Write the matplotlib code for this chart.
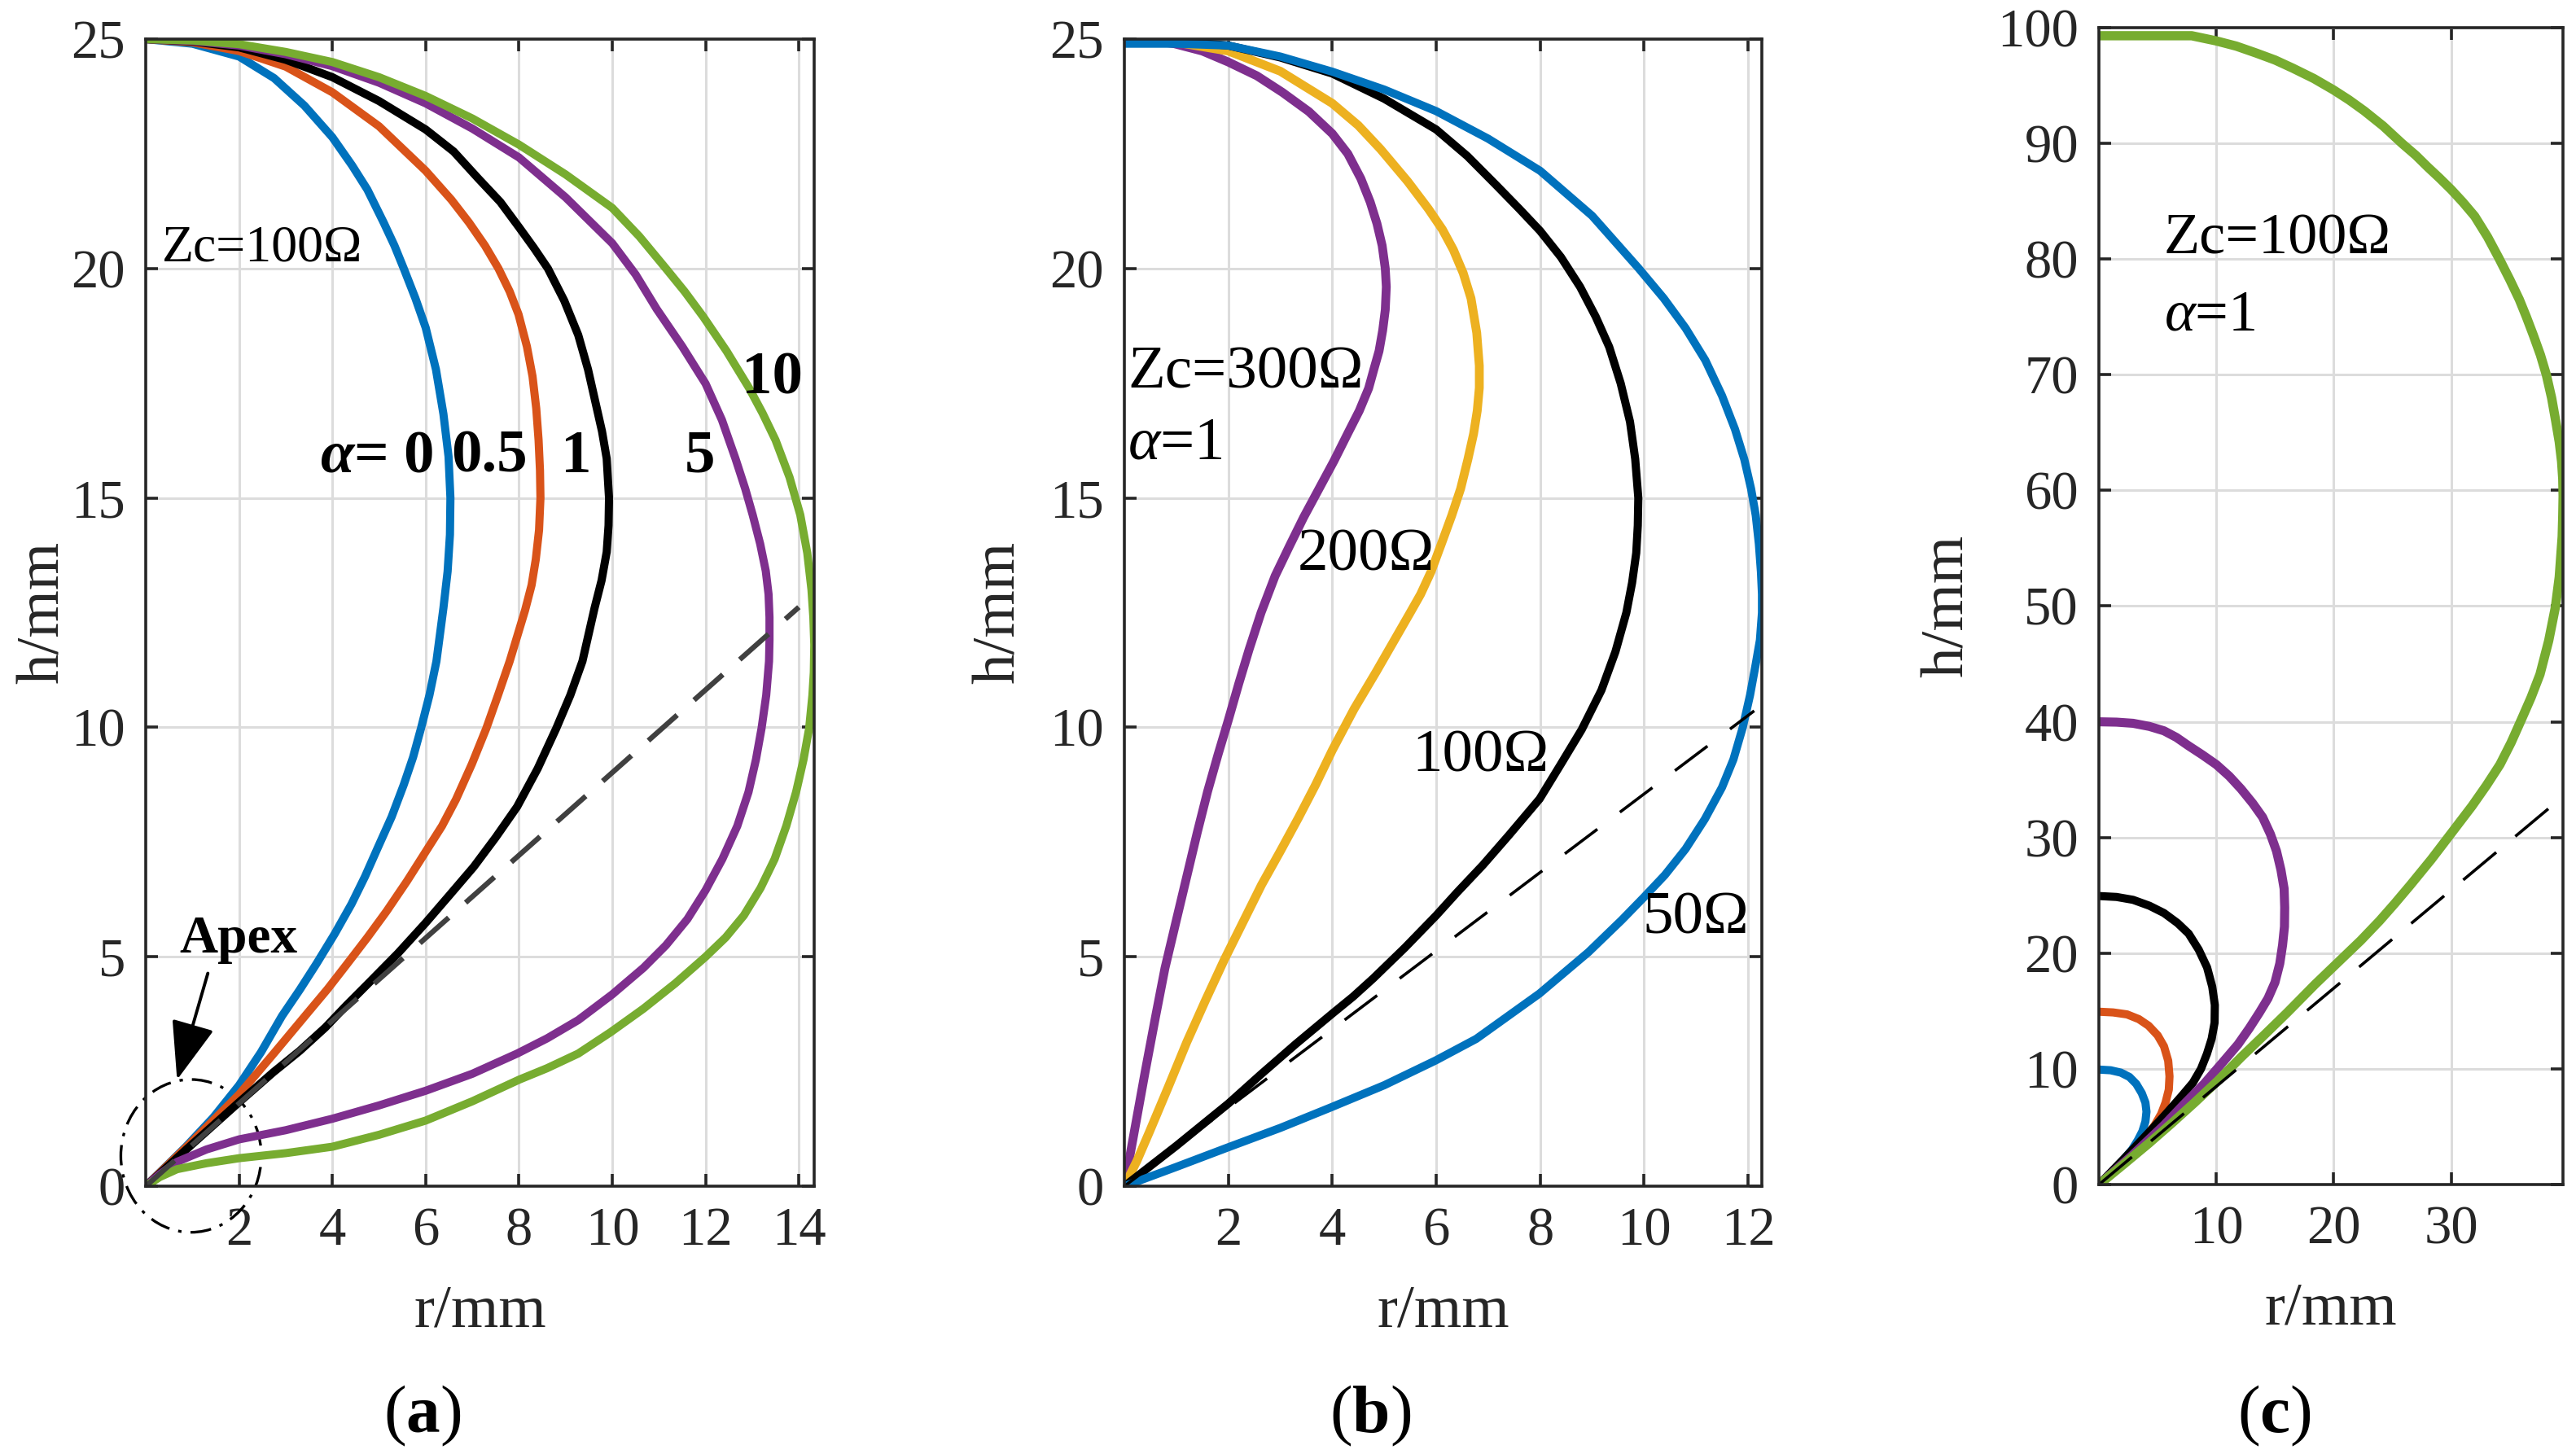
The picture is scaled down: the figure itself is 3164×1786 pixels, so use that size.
import matplotlib
matplotlib.use("Agg")
import matplotlib.pyplot as plt
from matplotlib.patches import Ellipse

plt.rcParams['font.family'] = ['Liberation Serif', 'DejaVu Serif']
plt.rcParams['mathtext.fontset'] = 'custom'
plt.rcParams['mathtext.rm'] = 'Liberation Serif'
plt.rcParams['mathtext.it'] = 'Liberation Serif:italic'
plt.rcParams['mathtext.bf'] = 'Liberation Serif:bold'
plt.rcParams['mathtext.bfit'] = 'Liberation Serif:italic:bold'
plt.rcParams['lines.scale_dashes'] = False

C_BLUE = '#0072BD'
C_ORANGE = '#D95319'
C_YELLOW = '#EDB120'
C_PURPLE = '#7E2F8E'
C_GREEN = '#77AC30'
C_AX = '#262626'

# ---------------- panel (a): Zc = 100 ohm, varying alpha ----------------
a_alpha0_r = [0, 1.0, 2.0, 2.75, 3.4, 4.0, 4.42, 4.75, 5.1, 5.33, 5.53, 5.78, 6.0, 6.22, 6.38, 6.49, 6.53, 6.52, 6.47, 6.38, 6.23, 6.08, 5.9, 5.73, 5.53, 5.27, 4.97, 4.7, 4.41, 4.05, 3.66, 3.3, 2.92, 2.47, 2.0, 1.45, 0.86, 0.4, 0]
a_alpha0_h = [25, 24.9, 24.62, 24.15, 23.55, 22.86, 22.25, 21.72, 21.0, 20.5, 20.0, 19.35, 18.71, 17.8, 16.83, 15.9, 15.0, 14.2, 13.4, 12.6, 11.44, 10.7, 9.98, 9.35, 8.75, 8.05, 7.37, 6.75, 6.15, 5.5, 4.85, 4.28, 3.71, 2.92, 2.2, 1.5, 0.86, 0.4, 0]

a_alpha05_r = [0, 1.0, 2.0, 3.0, 4.0, 5.0, 6.0, 6.55, 6.93, 7.27, 7.56, 7.8, 7.99, 8.17, 8.29, 8.37, 8.42, 8.45, 8.46, 8.43, 8.36, 8.27, 8.13, 7.8, 7.55, 7.3, 6.99, 6.65, 6.35, 6.0, 5.6, 5.16, 4.75, 4.32, 3.9, 3.48, 2.75, 2.0, 1.0, 0]
a_alpha05_h = [25, 24.93, 24.74, 24.4, 23.84, 23.1, 22.13, 21.5, 21.0, 20.5, 20.0, 19.5, 19.0, 18.3, 17.65, 16.95, 16.26, 15.6, 15.0, 14.3, 13.66, 13.1, 12.55, 11.44, 10.7, 9.98, 9.2, 8.43, 7.85, 7.29, 6.65, 5.99, 5.42, 4.85, 4.3, 3.79, 2.9, 2.0, 0.98, 0]

a_alpha1_r = [0, 1.0, 2.0, 3.0, 4.0, 5.0, 6.0, 6.6, 7.12, 7.6, 8.0, 8.32, 8.62, 8.97, 9.27, 9.48, 9.64, 9.78, 9.88, 9.93, 9.92, 9.88, 9.77, 9.62, 9.36, 9.1, 8.8, 8.4, 7.96, 7.5, 7.03, 6.5, 6.0, 5.4, 4.79, 4.3, 3.85, 3.3, 2.73, 2.0, 1.0, 0]
a_alpha1_h = [25, 24.95, 24.82, 24.55, 24.17, 23.65, 23.03, 22.55, 21.97, 21.45, 20.9, 20.45, 20.0, 19.3, 18.55, 17.8, 17.08, 16.45, 15.86, 15.0, 14.4, 13.82, 13.2, 12.6, 11.44, 10.7, 9.98, 9.1, 8.27, 7.6, 6.96, 6.33, 5.74, 5.07, 4.44, 3.94, 3.46, 2.95, 2.48, 1.83, 0.92, 0]

a_alpha5_r = [0, 1.0, 2.0, 3.0, 4.0, 5.0, 6.0, 7.0, 8.0, 9.0, 10.0, 10.5, 10.95, 11.5, 12.0, 12.35, 12.64, 12.85, 13.01, 13.17, 13.29, 13.35, 13.37, 13.37, 13.36, 13.3, 13.2, 13.08, 12.92, 12.68, 12.36, 12.0, 11.61, 11.15, 10.67, 10.0, 9.27, 8.6, 7.96, 7.0, 6.0, 5.0, 4.0, 3.0, 2.0, 1.3, 0.67, 0.3, 0]
a_alpha5_h = [25, 24.96, 24.86, 24.67, 24.41, 24.05, 23.6, 23.05, 22.42, 21.55, 20.55, 19.87, 19.12, 18.3, 17.49, 16.7, 15.86, 15.2, 14.63, 14.0, 13.41, 12.9, 12.4, 11.9, 11.44, 10.7, 9.98, 9.3, 8.59, 7.85, 7.13, 6.45, 5.82, 5.25, 4.76, 4.18, 3.62, 3.22, 2.89, 2.45, 2.08, 1.76, 1.47, 1.22, 1.02, 0.8, 0.53, 0.26, 0]

a_alpha10_r = [0, 1.0, 2.0, 3.0, 4.0, 5.0, 6.0, 7.0, 8.0, 9.0, 10.0, 10.58, 11.15, 11.55, 11.95, 12.45, 12.93, 13.22, 13.5, 13.8, 14.03, 14.18, 14.27, 14.31, 14.33, 14.32, 14.29, 14.22, 14.1, 13.94, 13.73, 13.48, 13.18, 12.82, 12.43, 12.0, 11.35, 10.67, 9.97, 9.27, 8.6, 8.0, 7.0, 6.0, 5.0, 4.0, 3.0, 2.0, 1.3, 0.67, 0.3, 0]
a_alpha10_h = [25, 24.97, 24.89, 24.72, 24.5, 24.17, 23.76, 23.27, 22.7, 22.05, 21.32, 20.7, 20.0, 19.5, 18.95, 18.2, 17.4, 16.85, 16.26, 15.45, 14.63, 13.8, 13.0, 12.4, 11.8, 11.2, 10.7, 9.98, 9.3, 8.59, 7.85, 7.13, 6.5, 5.9, 5.42, 5.0, 4.42, 3.87, 3.36, 2.89, 2.57, 2.32, 1.85, 1.43, 1.12, 0.86, 0.72, 0.61, 0.5, 0.37, 0.2, 0]

a_dash_r = [0, 14.0]
a_dash_h = [0, 12.62]

# ---------------- panel (b): alpha = 1, varying Zc ----------------
b_300_r = [0, 0.5, 0.96, 1.5, 2.0, 2.55, 3.04, 3.55, 4.0, 4.3, 4.55, 4.73, 4.86, 4.96, 5.02, 5.04, 5.02, 4.97, 4.9, 4.8, 4.7, 4.52, 4.3, 4.03, 3.74, 3.45, 3.18, 2.9, 2.63, 2.4, 2.2, 2.0, 1.8, 1.6, 1.4, 1.2, 1.0, 0.78, 0.6, 0.4, 0.2, 0]
b_300_h = [25.0, 24.97, 24.9, 24.74, 24.5, 24.2, 23.84, 23.42, 22.94, 22.5, 21.96, 21.45, 20.98, 20.5, 20.0, 19.6, 19.1, 18.65, 18.2, 17.8, 17.39, 16.9, 16.41, 15.8, 15.19, 14.58, 13.96, 13.3, 12.5, 11.7, 10.95, 10.16, 9.4, 8.6, 7.7, 6.75, 5.8, 4.75, 3.7, 2.5, 1.25, 0]

b_200_r = [0, 1.0, 2.0, 3.0, 4.0, 4.5, 4.93, 5.45, 5.85, 6.12, 6.33, 6.52, 6.67, 6.78, 6.83, 6.83, 6.79, 6.72, 6.61, 6.47, 6.3, 6.1, 5.9, 5.7, 5.5, 5.17, 4.85, 4.42, 4.0, 3.68, 3.35, 3.0, 2.64, 2.28, 1.92, 1.56, 1.2, 0.84, 0.48, 0.24, 0]
b_200_h = [25, 24.93, 24.74, 24.3, 23.6, 23.12, 22.6, 21.9, 21.3, 20.85, 20.41, 19.9, 19.35, 18.6, 17.88, 17.4, 16.9, 16.4, 15.84, 15.2, 14.62, 14.0, 13.39, 12.9, 12.5, 11.85, 11.22, 10.4, 9.5, 8.75, 8.03, 7.3, 6.57, 5.75, 4.93, 4.05, 3.14, 2.15, 1.18, 0.55, 0]

b_100_r = [0, 1.0, 2.0, 3.0, 4.0, 5.0, 6.0, 6.6, 7.17, 7.6, 8.0, 8.4, 8.77, 9.07, 9.33, 9.55, 9.73, 9.83, 9.89, 9.88, 9.85, 9.77, 9.66, 9.45, 9.18, 8.8, 8.39, 7.99, 7.4, 6.9, 6.4, 6.0, 5.4, 4.79, 4.4, 4.0, 3.3, 2.64, 2.0, 1.0, 0]
b_100_h = [25, 24.96, 24.86, 24.6, 24.25, 23.7, 23.03, 22.45, 21.8, 21.3, 20.82, 20.25, 19.6, 18.95, 18.29, 17.5, 16.66, 15.85, 15.0, 14.4, 13.8, 13.15, 12.5, 11.65, 10.81, 9.95, 9.18, 8.44, 7.65, 7.0, 6.4, 5.9, 5.2, 4.53, 4.13, 3.76, 3.1, 2.45, 1.8, 0.88, 0]

b_50_r = [0, 1.0, 2.0, 3.0, 4.0, 5.0, 6.0, 7.0, 8.0, 9.0, 9.9, 10.38, 10.8, 11.18, 11.5, 11.75, 11.93, 12.06, 12.15, 12.21, 12.25, 12.27, 12.27, 12.23, 12.15, 12.04, 11.9, 11.72, 11.5, 11.17, 10.8, 10.4, 10.0, 9.57, 8.93, 7.99, 6.77, 5.99, 5.0, 3.98, 3.0, 1.98, 1.0, 0]
b_50_h = [24.9, 24.9, 24.86, 24.62, 24.29, 23.9, 23.43, 22.83, 22.13, 21.15, 20.0, 19.35, 18.7, 18.0, 17.23, 16.5, 15.84, 15.2, 14.62, 14.0, 13.39, 12.9, 12.5, 11.9, 11.38, 10.7, 10.0, 9.3, 8.69, 8.0, 7.35, 6.78, 6.3, 5.8, 5.1, 4.2, 3.21, 2.74, 2.2, 1.72, 1.27, 0.84, 0.42, 0]

b_dash_r = [0, 12.12]
b_dash_h = [0, 10.36]

# ---------------- panel (c): Zc = 100 ohm, alpha = 1, varying height ----------------
c_h10_r = [0, 1.0, 1.86, 2.6, 3.18, 3.65, 3.96, 4.05, 3.96, 3.7, 3.31, 2.8, 2.13, 1.0, 0]
c_h10_h = [9.94, 9.88, 9.68, 9.3, 8.7, 7.9, 7.08, 6.3, 5.45, 4.6, 3.83, 3.0, 2.21, 1.0, 0]

c_h15_r = [0, 1.2, 2.39, 3.4, 4.23, 5.0, 5.54, 5.9, 6.01, 5.95, 5.67, 5.3, 4.75, 3.9, 2.91, 1.5, 0]
c_h15_h = [14.94, 14.88, 14.71, 14.3, 13.73, 12.9, 11.95, 10.7, 9.35, 8.2, 7.08, 6.1, 5.13, 4.0, 2.86, 1.4, 0]

c_h25_r = [0, 1.5, 2.91, 4.3, 5.54, 6.7, 7.64, 8.5, 9.21, 9.65, 9.87, 9.85, 9.6, 9.2, 8.69, 8.0, 7.11, 5.7, 4.23, 2.1, 0]
c_h25_h = [24.94, 24.86, 24.61, 24.1, 23.47, 22.6, 21.69, 20.3, 18.77, 17.1, 15.52, 14.0, 12.6, 11.3, 10.0, 8.8, 7.73, 6.1, 4.48, 2.2, 0]

c_h40_r = [0, 1.5, 2.91, 4.3, 5.54, 6.6, 7.64, 8.8, 10.0, 11.1, 12.1, 13.1, 13.94, 14.6, 15.12, 15.5, 15.77, 15.82, 15.8, 15.64, 15.4, 14.99, 14.4, 13.67, 12.8, 11.84, 10.4, 8.95, 7.2, 5.54, 2.8, 0]
c_h40_h = [40, 39.97, 39.87, 39.6, 39.22, 38.65, 37.92, 37.15, 36.3, 35.3, 34.2, 32.95, 31.75, 30.3, 28.83, 27.2, 25.58, 23.96, 22.3, 20.71, 19.1, 17.47, 16.1, 14.87, 13.5, 12.11, 10.4, 8.7, 6.9, 5.13, 2.5, 0]

c_h100_r = [0, 7.9, 10.0, 11.7, 13.4, 15.0, 16.5, 18.3, 20.0, 21.3, 22.6, 24.2, 25.8, 27.0, 28.0, 29.0, 30.0, 31.0, 32.0, 33.1, 34.1, 35.0, 35.8, 36.4, 37.0, 37.6, 38.1, 38.55, 38.9, 39.2, 39.4, 39.5, 39.53, 39.5, 39.45, 39.2, 38.87, 38.3, 37.56, 36.8, 35.98, 35.1, 34.15, 33.0, 31.78, 30.03, 28.3, 26.53, 25.2, 23.9, 22.3, 20.76, 18.4, 16.04, 14.1, 12.1, 10.1, 8.16, 6.2, 4.23, 2.1, 0]
c_h100_h = [99.3, 99.3, 98.85, 98.4, 97.8, 97.2, 96.5, 95.6, 94.6, 93.75, 92.8, 91.5, 90.0, 88.95, 87.95, 87.0, 86.0, 84.9, 83.7, 81.9, 80.0, 78.2, 76.5, 75.0, 73.4, 71.7, 70.0, 68.0, 66.0, 64.2, 62.5, 61.0, 59.5, 57.8, 56.0, 52.5, 49.9, 47.0, 44.1, 42.1, 40.2, 38.2, 36.3, 34.5, 32.73, 30.4, 28.1, 25.9, 24.3, 22.8, 21.1, 19.6, 17.3, 14.87, 12.95, 11.0, 8.95, 7.1, 5.3, 3.55, 1.75, 0]

c_dash_r = [0, 39.0]
c_dash_h = [0, 33.1]

a_xticks = [2, 4, 6, 8, 10, 12, 14]
a_yticks = [0, 5, 10, 15, 20, 25]
b_xticks = [2, 4, 6, 8, 10, 12]
b_yticks = [0, 5, 10, 15, 20, 25]
c_xticks = [10, 20, 30]
c_yticks = [0, 10, 20, 30, 40, 50, 60, 70, 80, 90, 100]

fig = plt.figure(figsize=(15.82, 8.93), dpi=200)
ax_a = fig.add_axes([0.0566, 0.1842, 0.2595, 0.7889])
ax_b = fig.add_axes([0.4365, 0.1842, 0.2475, 0.7889])
ax_c = fig.add_axes([0.8148, 0.1853, 0.1802, 0.7957])

LW = 3.6


def style(ax, xticks, yticks, xmax, ymax, ylab_x, xlab_y):
    ax.set_xlim(0, xmax)
    ax.set_ylim(0, ymax)
    ax.set_xticks(xticks)
    ax.set_yticks(yticks)
    ax.set_axisbelow(True)
    ax.grid(True, color='#dcdcdc', lw=1.1)
    for s in ax.spines.values():
        s.set_color(C_AX)
        s.set_linewidth(1.3)
    ax.tick_params(direction='in', length=5.5, width=1.3, top=True, right=True,
                   labelsize=24, colors=C_AX)
    ax.tick_params(axis='x', pad=9)
    ax.tick_params(axis='y', pad=9)
    ax.set_xlabel('r/mm', fontsize=27, color=C_AX)
    ax.set_ylabel('h/mm', fontsize=27, color=C_AX)
    ax.xaxis.set_label_coords(0.5, xlab_y)
    ax.xaxis.label.set_va('center')
    ax.yaxis.set_label_coords(ylab_x, 0.5)
    ax.yaxis.label.set_va('center')


# panel a
ax = ax_a
ax.plot(a_alpha0_r, a_alpha0_h, color=C_BLUE, lw=LW)
ax.plot(a_alpha05_r, a_alpha05_h, color=C_ORANGE, lw=LW)
ax.plot(a_alpha1_r, a_alpha1_h, color='black', lw=LW)
ax.plot(a_alpha5_r, a_alpha5_h, color=C_PURPLE, lw=LW)
ax.plot(a_alpha10_r, a_alpha10_h, color=C_GREEN, lw=LW)
ax.plot(a_dash_r, a_dash_h, color='#404040', lw=2.3, dashes=(17, 10))
style(ax, a_xticks, a_yticks, max(a_alpha10_r), 25, -0.152, -0.11)
ax.text(0.35, 20.17, 'Zc=100\u03a9', fontsize=23, ha='left', va='baseline')
ax.text(3.73, 15.57, r'$\mathbfit{\alpha}$= 0', fontsize=27, fontweight='bold', ha='left', va='baseline')
ax.text(6.55, 15.57, '0.5', fontsize=27, fontweight='bold', ha='left', va='baseline')
ax.text(8.9, 15.57, '1', fontsize=27, fontweight='bold', ha='left', va='baseline')
ax.text(11.54, 15.57, '5', fontsize=27, fontweight='bold', ha='left', va='baseline')
ax.text(12.78, 17.28, '10', fontsize=27, fontweight='bold', ha='left', va='baseline')
ax.text(0.72, 5.1, 'Apex', fontsize=23.5, fontweight='bold', ha='left', va='baseline')
ax.annotate('', xy=(0.67, 2.32), xytext=(1.33, 4.64),
            arrowprops=dict(arrowstyle='-|>,head_length=0.75,head_width=0.28',
                            color='black', lw=1.4, mutation_scale=30,
                            shrinkA=0, shrinkB=0), annotation_clip=False)
ax.add_patch(Ellipse((0.97, 0.66), 3.01, 3.33, fill=False, ec='black', lw=1.2,
                     ls=(0, (9, 4, 1.5, 4)), clip_on=False))

# panel b
ax = ax_b
ax.plot(b_300_r, b_300_h, color=C_PURPLE, lw=LW + 0.3)
ax.plot(b_200_r, b_200_h, color=C_YELLOW, lw=LW + 0.3)
ax.plot(b_100_r, b_100_h, color='black', lw=LW)
ax.plot(b_50_r, b_50_h, color=C_BLUE, lw=LW)
ax.plot(b_dash_r, b_dash_h, color='black', lw=1.3, dashes=(18, 12.5))
style(ax, b_xticks, b_yticks, max(b_50_r), 25, -0.196, -0.11)
ax.text(0.06, 17.39, 'Zc=300\u03a9', fontsize=27, ha='left', va='baseline')
ax.text(0.06, 15.86, r'$\alpha$=1', fontsize=27, ha='left', va='baseline')
ax.text(3.34, 13.43, '200\u03a9', fontsize=27, ha='left', va='baseline')
ax.text(5.54, 9.04, '100\u03a9', fontsize=27, ha='left', va='baseline')
ax.text(9.97, 5.51, '50\u03a9', fontsize=27, ha='left', va='baseline')

# panel c
ax = ax_c
ax.plot(c_h10_r, c_h10_h, color=C_BLUE, lw=LW)
ax.plot(c_h15_r, c_h15_h, color=C_ORANGE, lw=LW)
ax.plot(c_h25_r, c_h25_h, color='black', lw=LW)
ax.plot(c_h40_r, c_h40_h, color=C_PURPLE, lw=LW + 0.4)
ax.plot(c_h100_r, c_h100_h, color=C_GREEN, lw=LW + 0.5)
ax.plot(c_dash_r, c_dash_h, color='black', lw=1.3, dashes=(19, 11))
style(ax, c_xticks, c_yticks, max(c_h100_r), 100, -0.325, -0.108)
ax.text(5.54, 80.45, 'Zc=100\u03a9', fontsize=26, ha='left', va='baseline')
ax.text(5.54, 73.85, r'$\alpha$=1', fontsize=26, ha='left', va='baseline')

# subplot captions
fig.text(0.164, 0.026, r'($\mathbf{a}$)', fontsize=30, ha='center', va='center')
fig.text(0.532, 0.026, r'($\mathbf{b}$)', fontsize=30, ha='center', va='center')
fig.text(0.883, 0.026, r'($\mathbf{c}$)', fontsize=30, ha='center', va='center')

fig.savefig('out.png', dpi=200)
